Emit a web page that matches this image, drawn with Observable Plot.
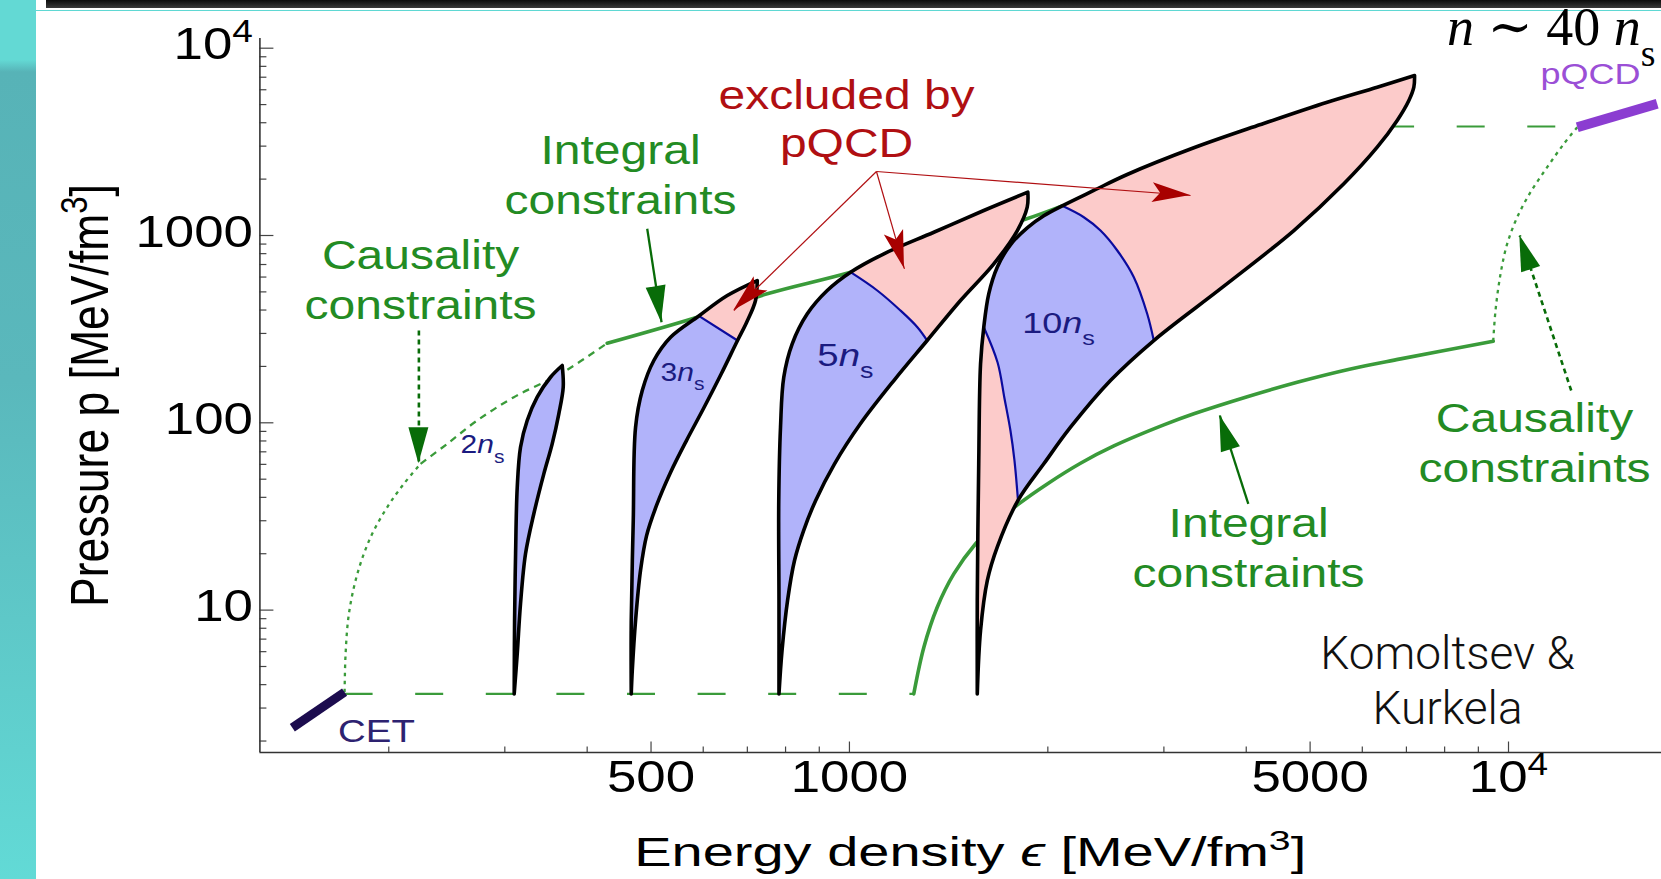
<!DOCTYPE html>
<html><head><meta charset="utf-8">
<script src="https://cdn.jsdelivr.net/npm/d3@7"></script>
<script src="https://cdn.jsdelivr.net/npm/@observablehq/plot@0.6"></script>
<style>
html,body{margin:0;padding:0;}
body{width:1661px;height:879px;overflow:hidden;position:relative;
  background:linear-gradient(180deg,#63d9d4 0px,#63d9d4 60px,#57b3b7 72px,#5ab8bc 380px,#5ec8c8 620px,#62dad6 879px);}
#panel{position:absolute;left:36px;top:0;right:0;bottom:0;background:#fff;}
#topbar{position:absolute;left:46px;top:0;right:0;height:8px;background:linear-gradient(#0c0c0c,#3a3a3a);}
#cline{position:absolute;left:36px;top:10px;right:0;height:1px;background:#5fd8d3;}
#chart{position:absolute;left:0;top:0;width:1661px;height:879px;}
</style></head><body>
<div id="panel"></div><div id="topbar"></div><div id="cline"></div>
<div id="chart"></div>
<script>
// ---------- scales / ticks ----------
const xDomain = [127.5, 17066];
const yDomain = [1.737, 11266];
const xMajorTicks = [500, 1000, 5000, 10000];
const xMajorLabels = ["500", "1000", "5000", "10^4"];
const xMinorTicks = [200, 300, 400, 600, 700, 800, 900, 2000, 3000, 4000, 6000, 7000, 8000, 9000];
const yMajorTicks = [10, 100, 1000, 10000];
const yMajorLabels = ["10", "100", "1000", "10^4"];
const yMinorTicks = [2,3,4,5,6,7,8,9,20,30,40,50,60,70,80,90,200,300,400,500,600,700,800,900,2000,3000,4000,5000,6000,7000,8000,9000];

// ---------- regions: [energy density, pressure] ----------
const region2ns = [[310,3.57],[310.4,8.8],[311.5,19.98],[313.3,45.3],[316.9,74.1],[324.4,102.9],[335.9,137],[351.9,175.1],[366.6,202.2],[366.6,202.2],[367.9,154.9],[362.3,111.7],[354,77.2],[343.8,53.4],[332,32.7],[322.5,19.98],[316.9,10.8],[313.3,5.84],[310,3.57]];

const region3ns = [[466.6,3.57],[466.6,8.8],[469.9,30.1],[473.7,94.7],[484.9,148.7],[504.9,215.1],[535.3,286.4],[590.8,372],[652.6,478.3],[724.6,575],[724.6,575],[720.3,449.8],[698.1,343.1],[676.4,275],[639.4,183.3],[600.6,119.2],[565.9,80.4],[535.2,54.3],[509.7,36.2],[492.3,25.0],[482,16.3],[473.7,8.8],[468.3,4.76],[466.6,3.57]];
const blue3ns = [[466.6,3.57],[466.6,8.8],[469.9,30.1],[473.7,94.7],[484.9,148.7],[504.9,215.1],[535.3,286.4],[590.8,372],[590.8,372],[676.4,275],[676.4,275],[639.4,183.3],[600.6,119.2],[565.9,80.4],[535.2,54.3],[509.7,36.2],[492.3,25.0],[482,16.3],[473.7,8.8],[468.3,4.76],[466.6,3.57]];
const divider3ns = [[590.8,372],[676.4,275]];

const region5ns = [[781.8,3.57],[781.8,11.25],[781.2,38.5],[786,94.7],[795,175.1],[818.8,264.1],[863.1,382],[925.3,508.6],[1004,636.9],[1128,798.6],[1343,1041],[1599,1360],[1865,1703],[1865,1703],[1861,1416],[1798,1063],[1656,706.3],[1474,449.8],[1312,275],[1168,168.2],[1039,98.8],[949.3,60.4],[888.8,38.5],[852.1,26.6],[825.4,18.4],[805.6,11.25],[790.2,6.08],[781.8,3.57]];
const blue5ns = [[781.8,3.57],[781.8,11.25],[781.2,38.5],[786,94.7],[795,175.1],[818.8,264.1],[863.1,382],[925.3,508.6],[1004,636.9],[1004,636.9],[1102,508.6],[1195,397.8],[1268,323.8],[1312,275],[1312,275],[1168,168.2],[1039,98.8],[949.3,60.4],[888.8,38.5],[852.1,26.6],[825.4,18.4],[805.6,11.25],[790.2,6.08],[781.8,3.57]];
const divider5ns = [[1004,636.9],[1102,508.6],[1195,397.8],[1268,323.8],[1312,275]];

const region10ns = [[1563,3.57],[1563,11.25],[1571,60.4],[1581,206.5],[1599,323.8],[1627,488.3],[1676,677.3],[1755,892],[1861,1099],[1972,1274],[2103,1440],[2348,1739],[2639,2117],[3331,2939],[4205,3913],[5308,5148],[6321,6193],[7202,7149],[7202,7149],[7184,6193],[7060,5257],[6778,4112],[6321,2961],[5625,1888],[4724,1063],[3683,529.7],[2896,275],[2489,168.2],[2165,94.7],[1972,60.4],[1802,38.5],[1676,21.7],[1619,14.4],[1581,7.78],[1563,3.57]];
const blue10ns = [[1802,38.5],[1802,38.5],[1972,60.4],[2165,94.7],[2489,168.2],[2896,275],[2896,275],[2830,382],[2701,598.9],[2549,831.7],[2404,1063],[2268,1252],[2103,1440],[2103,1440],[1972,1274],[1861,1099],[1755,892],[1676,677.3],[1627,488.3],[1599,323.8],[1599,323.8],[1678,209.9],[1719,134.8],[1755,90.98],[1780,62.9],[1802,38.5]];
const divider10nsLeft = [[1599,323.8],[1678,209.9],[1719,134.8],[1755,90.98],[1780,62.9],[1802,38.5]];
const divider10nsRight = [[2896,275],[2830,382],[2701,598.9],[2549,831.7],[2404,1063],[2268,1252],[2103,1440]];

// ---------- constraint lines ----------
const cetBar = [[142.8,2.355],[171.4,3.65]];
const pqcdBar = [[12715,3786],[16810,5049]];
const lowDashed = [[171.4,3.57],[1252,3.57]];
const highDashed = [[6520,3819],[12715,3819]];
const causalityLeftLow = [[171.4,3.65],[172,5.84],[174,9.55],[179.2,15.6],[187.7,24.5],[198.9,35.4],[210.8,47.2],[223.5,60.4]];
const causalityLeftHigh = [[223.5,60.4],[245.3,77.2],[272.4,102.9],[309.6,137],[364.4,182.6],[429,266]];
const integralUpper = [[429,266],[587.4,366.3],[750.4,488.3],[1004,636.9],[1839,1213],[2103,1440]];
const integralLower = [[1252,3.57],[1297,6.34],[1359,10.36],[1440,15.6],[1554,22.6],[1676,29.5],[1807,36.9],[1996,47.2],[2242,60.86],[2519,75.25],[2999,97.46],[3331,111.7],[4014,137.8],[4779,164.7],[5759,194.0],[6858,219.4],[9480,272.7]];
const causalityRight = [[9480,272.7],[9556,397.8],[9726,624.5],[9954,903],[10309,1252],[10799,1703],[11447,2315],[12134,3088],[12715,3786]];

// ---------- arrows ----------
const redArrowOrigin = [1099, 2196];
const redArrowTips = [[667.8,397.8],[1212,664],[3293,1635]];
const greenArrows = [
  {tail:[222.2,311], tip:[222.2,60.4], dotted:true},
  {tail:[493.4,1086], tip:[518.7,344.4], dotted:false},
  {tail:[4029,36.9], tip:[3648,109.4], dotted:false},
  {tail:[12450,148.7], tip:[10402,1000], dotted:true}
];

// ---------- text ----------
const greenLabels = [
  {text:"Causality\nconstraints", at:[223.5,359.1]},
  {text:"Integral\nconstraints", at:[449.5,1306]},
  {text:"Integral\nconstraints", at:[4033,13.26]},
  {text:"Causality\nconstraints", at:[10950,48.2]}
];
const redLabel = [{text:"excluded by\npQCD", at:[990,2618]}];
const densityLabels = [
  {text:"2*n*_s", at:[257,68.8], size:25},
  {text:"3*n*_s", at:[516.9,168.2], size:25},
  {text:"5*n*_s", at:[893.9,202.2], size:32},
  {text:"10*n*_s", at:[1829,300.9], size:30}
];
const cetLabel = [{text:"CET", at:[191.6,1.971]}];
const pqcdLabel = [{text:"pQCD", at:[13315,6457]}];
const densityNote = [{text:"*n* ∼ 40 *n*_s", at:[16710,10338]}];
const authors = [{text:"Komoltsev &\nKurkela", at:[8081,2.472]}];
const xTitle = "Energy density *ϵ* [MeV/fm^3]";
const yTitle = "Pressure p [MeV/fm^3]";

// ---------- styling ----------
const SANS = "'Liberation Sans', Arial, Helvetica, sans-serif";
const PINK = "#fccbca", BLUE = "#b1b3fa", DIV = "#0b0b9e";
const GREEN = "#3a9b3a", DARKGREEN = "#086c08", TEXTGREEN = "#238b23", RED = "#b00f12";
const E = d => d[0], P = d => d[1];
const line = (data, opts) => Plot.line(data, {x: E, y: P, ...opts});
const frameW = 1661 - 259.4, frameH = 879 - 38 - 127;

function arrowHeads(arrows, {length, width, notch, fill}) {
  return (index, scales) => {
    const g = d3.create("svg:g");
    for (const a of arrows) {
      const x1 = scales.x(a.tail[0]), y1 = scales.y(a.tail[1]);
      const x2 = scales.x(a.tip[0]), y2 = scales.y(a.tip[1]);
      const L = Math.hypot(x2 - x1, y2 - y1);
      const ux = (x2 - x1) / L, uy = (y2 - y1) / L, vx = -uy, vy = ux;
      const bx = x2 - length * ux, by = y2 - length * uy;
      const pts = [[x2, y2], [bx + width * vx, by + width * vy],
                   [x2 - (length - notch) * ux, y2 - (length - notch) * uy],
                   [bx - width * vx, by - width * vy]];
      g.append("path").attr("d", "M" + pts.map(p => p.join(",")).join("L") + "Z").attr("fill", fill);
    }
    return g.node();
  };
}

function regionMarks(outline, blue, dividers) {
  const m = [line(outline, {fill: PINK, stroke: "none", curve: "catmull-rom"})];
  if (blue) m.push(line(blue, {fill: BLUE, stroke: "none", curve: "catmull-rom"}));
  for (const d of dividers) m.push(line(d, {stroke: DIV, strokeWidth: 2.2, curve: "catmull-rom"}));
  m.push(line(outline, {fill: "none", stroke: "#000", strokeWidth: 3.6, curve: "catmull-rom"}));
  return m;
}

const labelText = (data, opts) => Plot.text(data, {x: d => d.at[0], y: d => d.at[1], text: d => d.text,
  lineAnchor: "bottom", fontFamily: SANS, ...opts});

const svg = Plot.plot({
  width: 1661, height: 879,
  marginLeft: 259.4, marginRight: 0, marginTop: 38, marginBottom: 127,
  x: {type: "log", domain: xDomain, axis: null},
  y: {type: "log", domain: yDomain, axis: null},
  style: {background: "transparent", overflow: "visible"},
  marks: [
    // ticks and axis lines
    Plot.ruleX(xMinorTicks, {x: d => d, insetTop: frameH - 5.5, stroke: "#444", strokeWidth: 1.2}),
    Plot.ruleX(xMajorTicks, {x: d => d, insetTop: frameH - 10.5, stroke: "#444", strokeWidth: 1.2}),
    Plot.ruleY(yMinorTicks, {y: d => d, insetRight: frameW - 7, stroke: "#444", strokeWidth: 1.2}),
    Plot.ruleY(yMajorTicks, {y: d => d, insetRight: frameW - 14, stroke: "#444", strokeWidth: 1.2}),
    Plot.ruleX([xDomain[0]], {stroke: "#333", strokeWidth: 1.6}),
    Plot.ruleY([yDomain[0]], {stroke: "#333", strokeWidth: 1.6}),
    // constraint lines
    line(lowDashed, {stroke: GREEN, strokeWidth: 2.2, strokeDasharray: "28,42.6", strokeLinecap: "butt"}),
    line(highDashed, {stroke: GREEN, strokeWidth: 2.2, strokeDasharray: "28,42.6", strokeLinecap: "butt"}),
    line(causalityLeftLow, {stroke: GREEN, strokeWidth: 2.3, strokeDasharray: "3.5,4.5", strokeLinecap: "butt", curve: "catmull-rom"}),
    line(causalityLeftHigh, {stroke: GREEN, strokeWidth: 2.3, strokeDasharray: "7,5.5", strokeLinecap: "butt", curve: "catmull-rom"}),
    line(causalityRight, {stroke: GREEN, strokeWidth: 2.3, strokeDasharray: "3.5,4.5", strokeLinecap: "butt", curve: "catmull-rom"}),
    line(integralUpper, {stroke: GREEN, strokeWidth: 3.6, curve: "catmull-rom"}),
    line(integralLower, {stroke: GREEN, strokeWidth: 3.6, curve: "catmull-rom"}),
    // regions
    ...regionMarks(region2ns, region2ns, []),
    ...regionMarks(region3ns, blue3ns, [divider3ns]),
    ...regionMarks(region5ns, blue5ns, [divider5ns]),
    ...regionMarks(region10ns, blue10ns, [divider10nsLeft, divider10nsRight]),
    // EFT / pQCD end points
    line(cetBar, {stroke: "#1c0c4e", strokeWidth: 9, strokeLinecap: "butt"}),
    line(pqcdBar, {stroke: "#8b3dd1", strokeWidth: 10, strokeLinecap: "butt"}),
    // arrows
    Plot.link(redArrowTips, {x1: () => redArrowOrigin[0], y1: () => redArrowOrigin[1], x2: E, y2: P, stroke: RED, strokeWidth: 1.2}),
    arrowHeads(redArrowTips.map(tip => ({tail: redArrowOrigin, tip})), {length: 38, width: 10, notch: 8, fill: "#a80000"}),
    Plot.link(greenArrows.filter(d => !d.dotted), {x1: d => d.tail[0], y1: d => d.tail[1], x2: d => d.tip[0], y2: d => d.tip[1], stroke: DARKGREEN, strokeWidth: 2.3}),
    Plot.link(greenArrows.filter(d => d.dotted), {x1: d => d.tail[0], y1: d => d.tail[1], x2: d => d.tip[0], y2: d => d.tip[1], stroke: DARKGREEN, strokeWidth: 2.6, strokeDasharray: "5,4"}),
    arrowHeads(greenArrows, {length: 36, width: 10, notch: 0, fill: DARKGREEN}),
    // labels
    labelText(greenLabels, {fill: TEXTGREEN, fontSize: 40, lineHeight: 1.25, textAnchor: "middle"}),
    labelText(redLabel, {fill: RED, fontSize: 40, lineHeight: 1.21, textAnchor: "middle"}),
    labelText(densityLabels, {fill: "#1b1b80", fontSize: d => d.size, textAnchor: "start"}),
    labelText(cetLabel, {fill: "#2d2270", fontSize: 32, textAnchor: "middle"}),
    labelText(pqcdLabel, {fill: "#9b4fd6", fontSize: 30, textAnchor: "middle"}),
    labelText(densityNote, {fill: "#000", fontSize: 54, textAnchor: "end", fontFamily: "'Liberation Serif', 'DejaVu Serif', serif"}),
    labelText(authors, {fill: "#111", fontSize: 46, lineHeight: 1.2, textAnchor: "middle", fontFamily: "Roboto, 'Liberation Sans', sans-serif", fontWeight: 300}),
    // tick labels and axis titles
    Plot.text(xMajorTicks, {x: d => d, text: (d, i) => xMajorLabels[i], frameAnchor: "bottom", dy: 39.7, lineAnchor: "bottom", fontSize: 44, fontFamily: SANS, fill: "#000"}),
    Plot.text(yMajorTicks, {y: d => d, text: (d, i) => yMajorLabels[i], frameAnchor: "left", dx: -7, dy: -3, textAnchor: "end", fontSize: 44, fontFamily: SANS, fill: "#000"}),
    Plot.text([xTitle], {text: d => d, frameAnchor: "bottom", dx: 9.5, dy: 113, lineAnchor: "bottom", textAnchor: "middle", fontSize: 40, fontFamily: SANS, fill: "#000"}),
    Plot.text([yTitle], {text: d => d, frameAnchor: "left", dx: -152.4, rotate: -90, lineAnchor: "bottom", textAnchor: "middle", fontSize: 44.5, fontFamily: SANS, fill: "#000"})
  ]
});

document.getElementById("chart").appendChild(svg);

// rich text: *italic*, _sub, ^super
function richify(t) {
  if (t.children.length) return;
  const s = t.textContent;
  if (!/[*_^]/.test(s)) return;
  t.textContent = "";
  const re = /\*([^*]+)\*|_(.)|\^(.)|([^*_^]+)/g;
  let m;
  while ((m = re.exec(s))) {
    const ts = document.createElementNS("http://www.w3.org/2000/svg", "tspan");
    if (m[1] != null) { ts.setAttribute("font-style", "italic"); ts.textContent = m[1]; }
    else if (m[2] != null) { ts.setAttribute("baseline-shift", "sub"); ts.setAttribute("font-size", "70%"); ts.textContent = m[2]; }
    else if (m[3] != null) { ts.setAttribute("baseline-shift", "super"); ts.setAttribute("font-size", "70%"); ts.textContent = m[3]; }
    else ts.textContent = m[4];
    t.appendChild(ts);
  }
}
svg.querySelectorAll("text").forEach(t => {
  const s = t.textContent;
  richify(t);
  if (s.includes("Komoltsev") || s.includes("∼")) return;
  let sc = "scale(1.2,1)";
  if (s.startsWith("Pressure")) sc = "scale(1,1.2)";
  else if (s.startsWith("Energy")) sc = "scale(1.4,1)";
  const tr = t.getAttribute("transform");
  t.setAttribute("transform", (tr ? tr + " " : "") + sc);
});
</script></body></html>
